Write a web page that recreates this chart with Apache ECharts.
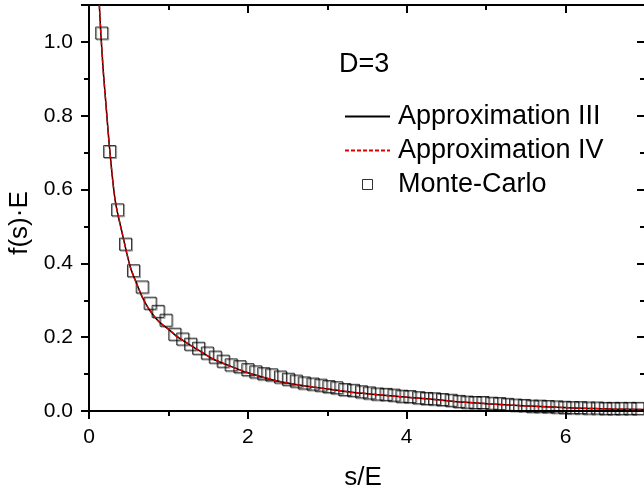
<!DOCTYPE html>
<html>
<head>
<meta charset="utf-8">
<script src="https://cdn.jsdelivr.net/npm/echarts@6/dist/echarts.min.js"></script>
<style>html,body{margin:0;padding:0;background:#fff}#c{width:644px;height:493px}</style>
</head>
<body>
<div id="c"></div>
<script>
// Monte-Carlo points
const mcS = [0.16,0.26,0.36,0.46,0.56,0.67,0.77,0.87,0.97,1.08,1.18,1.28,1.38,1.49,1.59,1.69,1.79,1.90,2.00,2.10,2.20,2.30,2.41,2.51,2.61,2.71,2.82,2.92,3.02,3.12,3.22,3.33,3.43,3.53,3.63,3.74,3.84,3.94,4.04,4.15,4.25,4.35,4.45,4.56,4.66,4.76,4.86,4.96,5.07,5.17,5.27,5.37,5.48,5.58,5.68,5.78,5.89,5.99,6.09,6.19,6.29,6.40,6.50,6.60,6.70,6.81,6.91];
const mcF = [1.024,0.703,0.545,0.452,0.380,0.336,0.292,0.270,0.246,0.208,0.195,0.181,0.170,0.157,0.146,0.135,0.125,0.120,0.112,0.106,0.101,0.098,0.092,0.086,0.081,0.076,0.073,0.070,0.066,0.063,0.058,0.056,0.052,0.049,0.046,0.045,0.043,0.040,0.039,0.036,0.034,0.033,0.031,0.029,0.026,0.024,0.023,0.023,0.021,0.020,0.018,0.016,0.015,0.013,0.013,0.012,0.011,0.010,0.009,0.009,0.008,0.008,0.007,0.007,0.007,0.007,0.007];
// Approximation curves
const approxS = [0.13,0.15,0.18,0.21,0.26,0.33,0.42,0.52,0.60,0.69,0.80,0.90,1.00,1.10,1.25,1.40,1.56,1.75,1.98,2.20,2.40,2.60,2.82,3.03,3.30,3.60,3.90,4.25,4.60,4.92,5.30,5.60,5.90,6.30,6.60,7.00];
const approx3F = [1.10,1.02,0.92,0.84,0.71,0.57,0.48,0.39,0.345,0.30,0.262,0.238,0.222,0.203,0.182,0.162,0.141,0.124,0.105,0.091,0.080,0.072,0.065,0.059,0.051,0.045,0.039,0.033,0.026,0.021,0.016,0.013,0.010,0.007,0.005,0.004];
const approx4F = [1.10,1.02,0.92,0.84,0.71,0.57,0.48,0.39,0.345,0.30,0.262,0.238,0.222,0.203,0.182,0.162,0.141,0.124,0.105,0.091,0.080,0.072,0.065,0.059,0.051,0.045,0.039,0.033,0.026,0.021,0.016,0.013,0.010,0.007,0.005,0.004];
const seriesNames = ['Approximation III','Approximation IV','Monte-Carlo'];
const xTickLabels = ['0','2','4','6'];
const yTickLabels = ['0.0','0.2','0.4','0.6','0.8','1.0'];

const FONT = 'Liberation Sans, Arial, sans-serif';
const X_MIN = 0, X_MAX = 7, Y_MIN = 0, Y_MAX = 1.1;

function zip(a, b) { return a.map((v, i) => [v, b[i]]); }
function near(v, list) { return list.find(t => Math.abs(parseFloat(t) - v) < 1e-6); }

function xAx(pos, interval, len, inside, labels, line) {
  return {
    type: 'value', position: pos, min: X_MIN, max: X_MAX, interval: interval,
    axisLine: { show: line, onZero: false, lineStyle: { color: '#000', width: 2 } },
    axisTick: { show: true, inside: inside, length: len, lineStyle: { color: '#000', width: 2 } },
    axisLabel: labels ? { show: true, margin: 16, fontSize: 21, fontFamily: FONT, color: '#000',
      formatter: v => near(v, xTickLabels) || '' } : { show: false },
    splitLine: { show: false }
  };
}
function yAx(pos, interval, len, inside, labels, line) {
  return {
    type: 'value', position: pos, min: Y_MIN, max: Y_MAX, interval: interval,
    axisLine: { show: line, onZero: false, lineStyle: { color: '#000', width: 2 } },
    axisTick: { show: true, inside: inside, length: len, lineStyle: { color: '#000', width: 2 } },
    axisLabel: labels ? { show: true, margin: 16, fontSize: 21, fontFamily: FONT, color: '#000',
      formatter: v => near(v, yTickLabels) || '' } : { show: false },
    splitLine: { show: false }
  };
}

const xMain = xAx('bottom', 2, 8, false, true, true);
xMain.name = 's/E'; xMain.nameLocation = 'middle'; xMain.nameGap = 54;
xMain.nameTextStyle = { fontSize: 26, fontFamily: FONT, color: '#000', padding: [0, 8, 0, 0] };
const yMain = yAx('left', 0.2, 8, false, true, true);
yMain.name = 'f(s)\u00B7E'; yMain.nameLocation = 'middle'; yMain.nameGap = 54;
yMain.nameTextStyle = { fontSize: 26, fontFamily: FONT, color: '#000', padding: [0, 30, 0, 0] };

const squareIcon = 'path://M0,0L10,0L10,10L0,10Z';

const option = {
  animation: false,
  backgroundColor: '#fff',
  grid: { left: 89, right: -1, top: 5, bottom: 82, containLabel: false, outerBoundsMode: 'none' },
  title: { text: 'D=3', left: 334, top: 46, textStyle: { fontSize: 27, fontWeight: 'normal', fontFamily: FONT, color: '#000' } },
  legend: {
    data: [
      { name: seriesNames[0], itemStyle: { opacity: 0 } },
      { name: seriesNames[1], itemStyle: { opacity: 0 } },
      { name: seriesNames[2], icon: squareIcon, itemStyle: { color: 'rgba(0,0,0,0)', borderColor: '#000', borderWidth: 1 } }
    ],
    orient: 'vertical', left: 344, top: 103,
    itemWidth: 45, itemHeight: 10, itemGap: 7, padding: 0,
    textStyle: { fontSize: 27, fontFamily: FONT, color: '#000', padding: [0, 0, 0, 3] }
  },
  xAxis: [
    xMain,
    xAx('bottom', 1, 5, false, false, false),
    xAx('top', 2, 8, true, false, true),
    xAx('top', 1, 5, true, false, false)
  ],
  yAxis: [
    yMain,
    yAx('left', 0.1, 5, false, false, false),
    yAx('right', 0.2, 8, true, false, true),
    yAx('right', 0.1, 5, true, false, false)
  ],
  series: [
    { name: seriesNames[2], type: 'scatter', data: zip(mcS, mcF), symbol: 'rect', symbolSize: 12,
      itemStyle: { color: 'rgba(0,0,0,0)', borderColor: '#000', borderWidth: 1,
        shadowColor: 'rgba(0,0,0,0.45)', shadowOffsetX: 1, shadowOffsetY: 1, shadowBlur: 0 }, z: 2 },
    { name: seriesNames[0], type: 'line', data: zip(approxS, approx3F), smooth: 0.3, symbol: 'none', showSymbol: false,
      itemStyle: { color: '#000' }, lineStyle: { color: '#000', width: 1.5 }, z: 3 },
    { name: seriesNames[1], type: 'line', data: zip(approxS, approx4F), smooth: 0.3, symbol: 'none', showSymbol: false,
      itemStyle: { color: '#e00000' }, lineStyle: { color: '#e00000', width: 1.5, type: [4, 2] }, z: 4 }
  ]
};
const chart = echarts.init(document.getElementById('c'), null, { renderer: 'canvas' });
chart.setOption(option);
</script>
</body>
</html>
